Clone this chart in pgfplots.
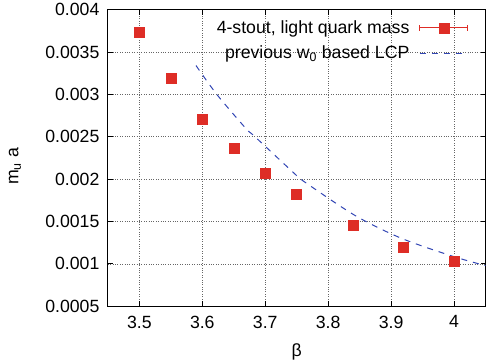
\documentclass[border=0pt]{standalone}
\usepackage{fontspec}
\setmainfont{Liberation Sans}
\usepackage{pgfplots}
\pgfplotsset{compat=1.18}

\definecolor{myred}{RGB}{222,45,38}
\definecolor{myblue}{RGB}{50,70,180}

\begin{document}
\begin{tikzpicture}
\begin{axis}[
 name=ax,
 scale only axis,
 width=378pt, height=297pt,
 xmin=3.45, xmax=4.05,
 ymin=0.0005, ymax=0.004,
 scaled y ticks=false,
 xtick={3.5,3.6,3.7,3.8,3.9,4},
 xticklabels={3.5,3.6,3.7,3.8,3.9,4},
 ytick={0.0005,0.001,0.0015,0.002,0.0025,0.003,0.0035,0.004},
 yticklabels={0.0005,0.001,0.0015,0.002,0.0025,0.003,0.0035,0.004},
 tick align=inside,
 major tick length=5pt,
 tick style={black, line width=0.8pt},
 grid=major,
 grid style={dotted, black!60, line width=0.7pt},
 axis line style={line width=1pt},
 font=\fontsize{17.7}{21}\selectfont,
 yticklabel style={xshift=-5pt},
 xticklabel style={yshift=-6pt},
 xlabel={β},
 ylabel={m\textsubscript{u} a},
 every axis x label/.style={at={(axis description cs:0.5,0)}, anchor=center, yshift=-46pt},
 every axis y label/.style={at={(axis description cs:0,0.471)}, anchor=center, rotate=90, yshift=93pt},
 legend plot pos=right,
 legend cell align=right,
 legend style={draw=none, fill=none, at={(1,1)}, anchor=north east, xshift=-14pt, yshift=-7pt, row sep=7pt, font=\fontsize{17.7}{21}\selectfont},
]
\addplot[only marks, mark=square*, mark size=5pt, color=myred,
 legend image code/.code={
  \path (0pt,0pt);
  \draw[myred, line width=1pt] (8pt,0pt) -- (56pt,0pt);
  \draw[myred, line width=1pt] (8pt,-3pt) -- (8pt,3pt);
  \draw[myred, line width=1pt] (56pt,-3pt) -- (56pt,3pt);
  \fill[myred] (27pt,-5pt) rectangle (37pt,5pt);
 }] table {
x y
3.50 0.00373
3.55 0.00319
3.60 0.00271
3.65 0.00236
3.70 0.00207
3.75 0.00182
3.84 0.00146
3.92 0.00120
4.00 0.00103
};
\addlegendentry{4-stout, light quark mass}
\addplot[myblue, line width=1pt, dash pattern=on 6pt off 6pt, smooth,
 legend image code/.code={
  \path (0pt,0pt);
  \draw[myblue, line width=1pt, dash pattern=on 6pt off 6pt] (8pt,0pt) -- (56pt,0pt);
 }] table {
x y
3.590 0.00334
3.623 0.00300
3.669 0.00260
3.683 0.002505
3.748 0.002055
3.760 0.00198
3.843 0.00157
3.917 0.00130
4.000 0.001085
4.050 0.00098
};
\addlegendentry{previous w\textsubscript{0} based LCP}
\end{axis}
\useasboundingbox ([shift={(-108pt,-57.7pt)}]ax.south west) rectangle ([shift={(0pt,9.3pt)}]ax.north east);
\end{tikzpicture}
\end{document}
